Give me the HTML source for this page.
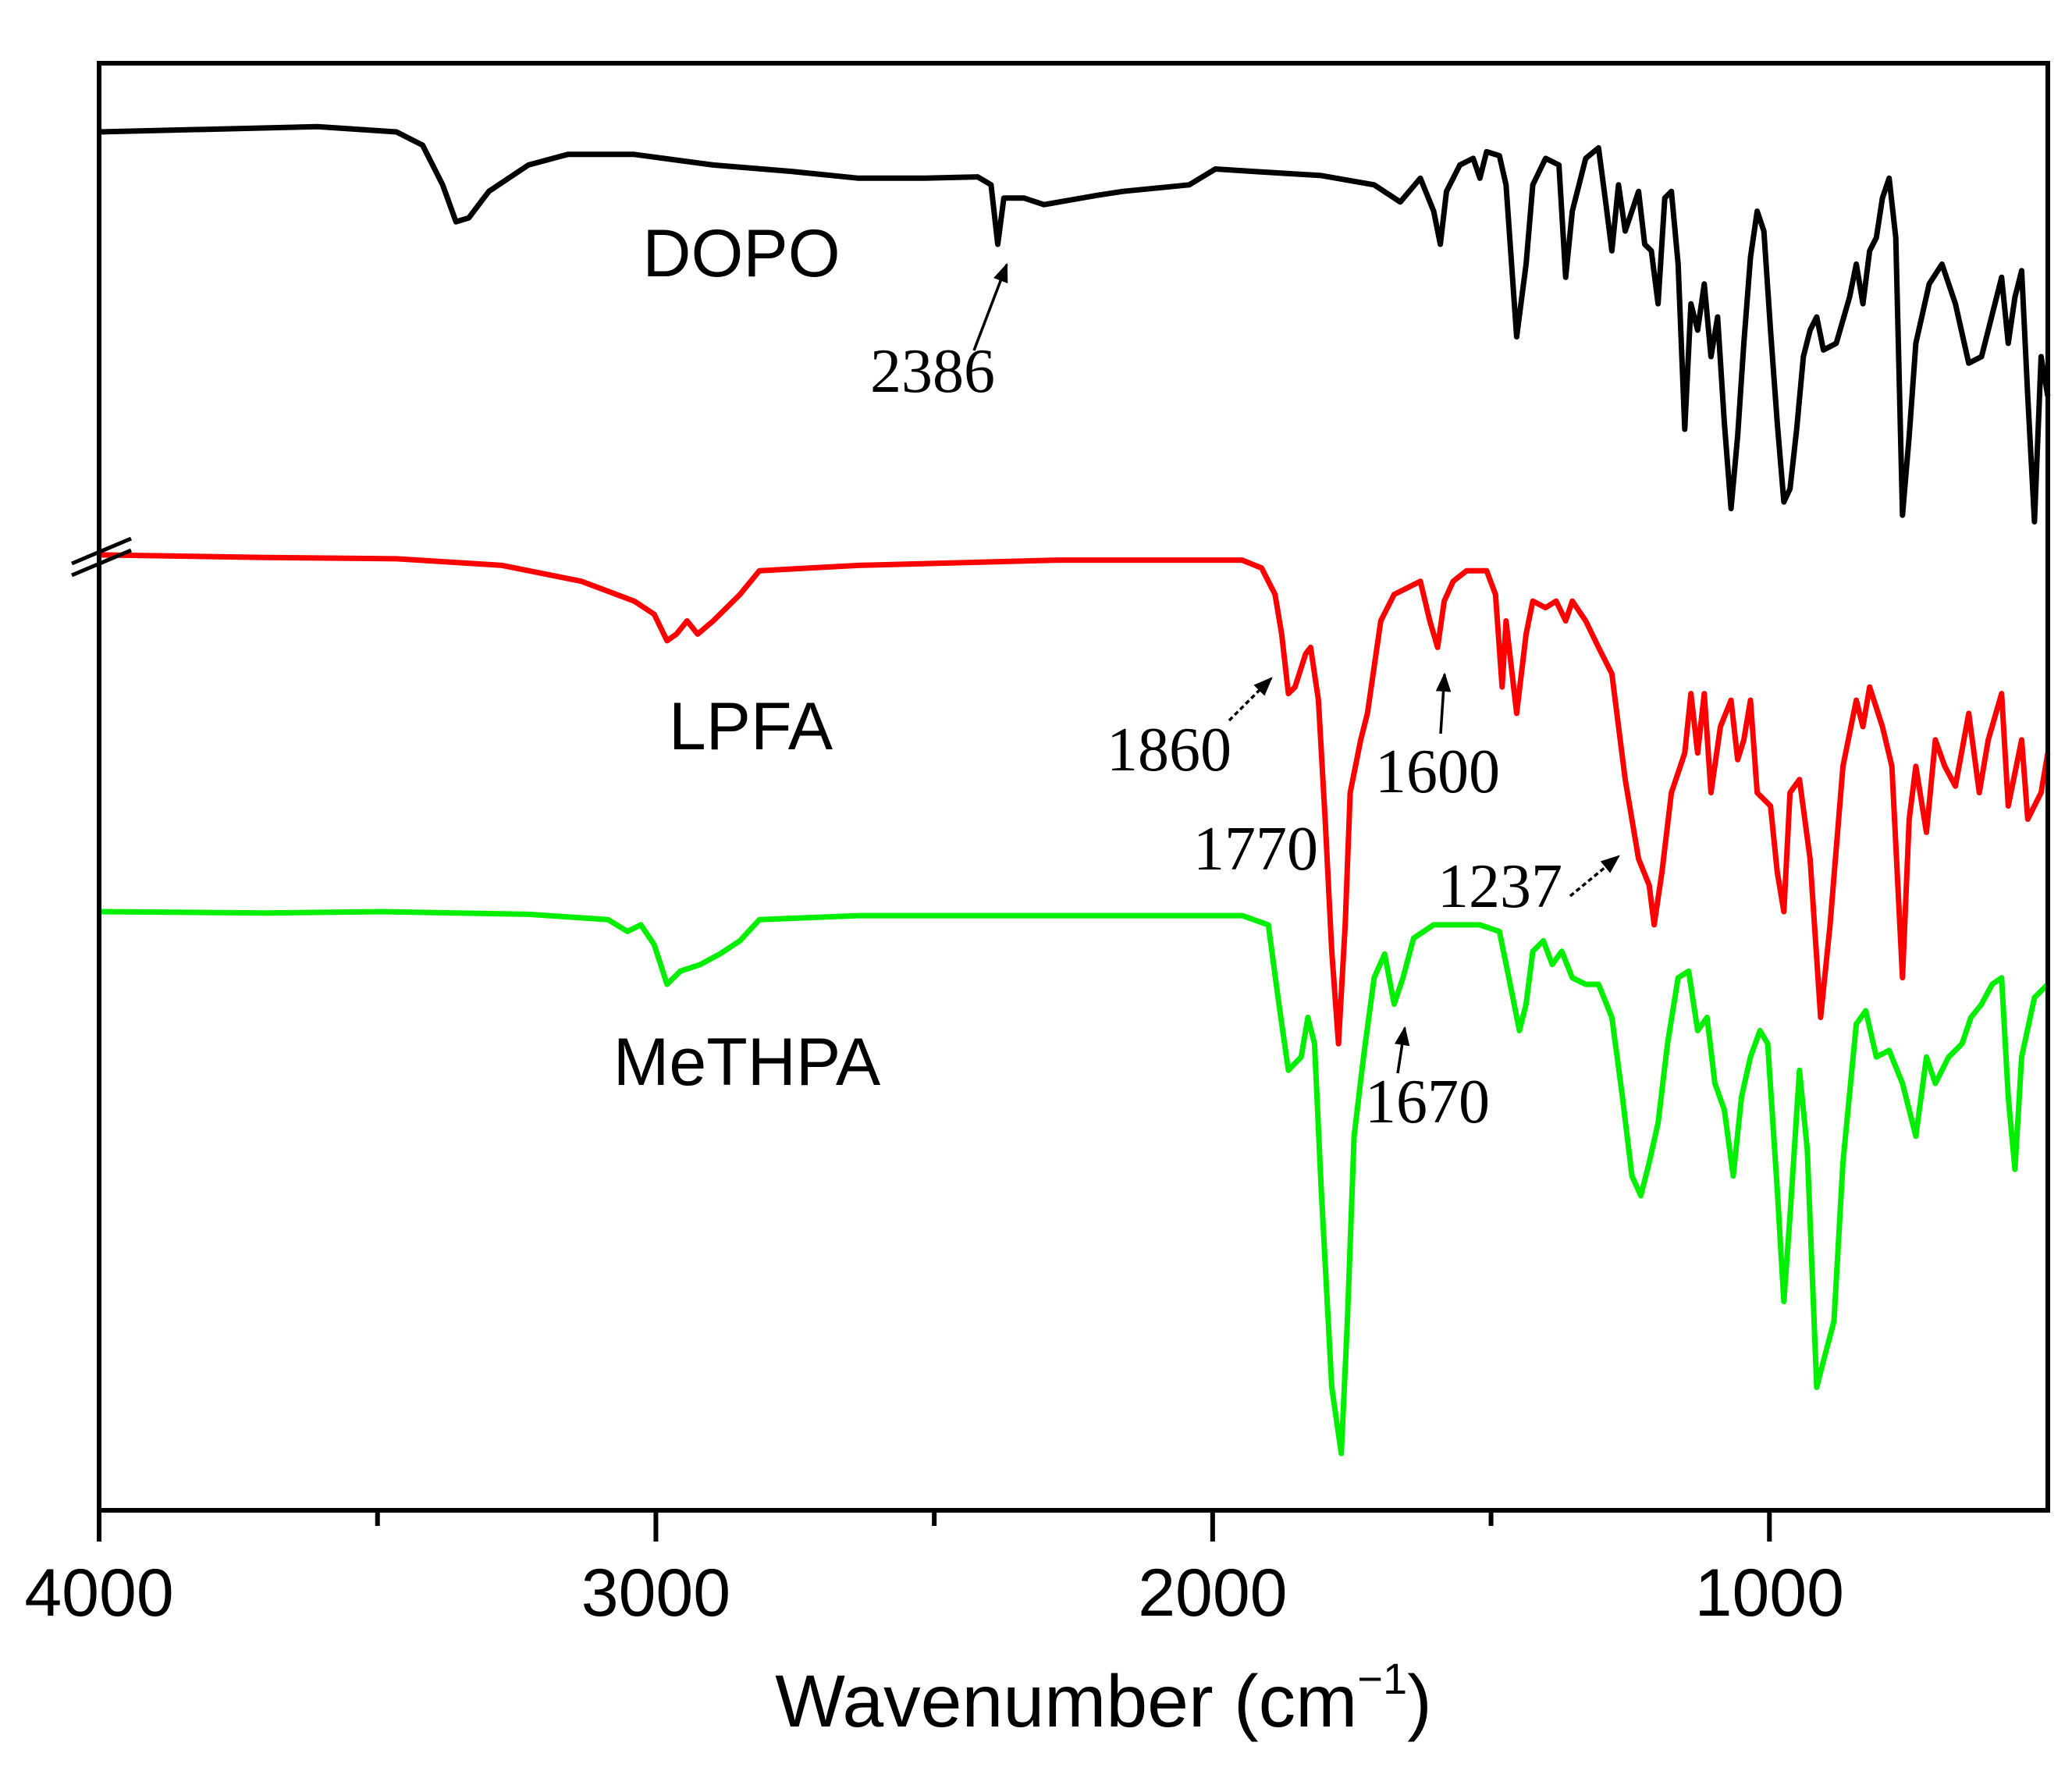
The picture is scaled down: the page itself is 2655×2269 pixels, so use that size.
<!DOCTYPE html>
<html><head><meta charset="utf-8"><style>
html,body{margin:0;padding:0;background:#fff;}
svg{display:block;}
</style></head><body>
<svg id="chart" width="2655" height="2269" viewBox="0 0 2655 2269" xmlns="http://www.w3.org/2000/svg">
<rect x="0" y="0" width="2655" height="2269" fill="#fff"/>
<g id="series"></g>
<rect x="127" y="81" width="2497" height="1854" fill="none" stroke="#000" stroke-width="6"/>
<g id="ticks"></g>
<g stroke="#000" stroke-width="5">
<line x1="92" y1="722" x2="168" y2="690"/>
<line x1="92" y1="737" x2="168" y2="705"/>
</g>
<text x="1414" y="2212" font-family="Liberation Sans, sans-serif" font-size="95" text-anchor="middle">Wavenumber (cm<tspan font-size="56" dy="-42">−1</tspan><tspan dy="42">)</tspan></text>
<g font-family="Liberation Sans, sans-serif" font-size="86" text-anchor="middle" fill="#000">
<text x="950" y="354">DOPO</text>
<text x="962" y="960">LPFA</text>
<text x="957" y="1390">MeTHPA</text>
</g>
<g font-family="Liberation Serif, serif" font-size="80" text-anchor="middle" fill="#000">
<text x="1195" y="502">2386</text>
<text x="1498" y="987">1860</text>
<text x="1842" y="1015">1600</text>
<text x="1609" y="1114">1770</text>
<text x="1922" y="1162">1237</text>
<text x="1829" y="1438">1670</text>
</g>
<defs><marker id="ah" viewBox="0 0 10 10" refX="9" refY="5" markerWidth="7" markerHeight="7" orient="auto"><path d="M0,1 L10,5 L0,9 Z" fill="#000"/></marker></defs>
<g stroke="#000" stroke-width="3.5" marker-end="url(#ah)">
<line x1="1248" y1="449" x2="1290" y2="339"/>
<line x1="1575" y1="923" x2="1629" y2="869" stroke-dasharray="6 4"/>
<line x1="1846" y1="940" x2="1851" y2="864"/>
<line x1="2012" y1="1148" x2="2074" y2="1097" stroke-dasharray="6 4"/>
<line x1="1791" y1="1375" x2="1800" y2="1317"/>
</g>
</svg>
<script>
const majorTicks = [4000, 3000, 2000, 1000];
const minorTicks = [3500, 2500, 1500];
const tickLabels = ["4000", "3000", "2000", "1000"];
const dopoData = [[4000,1043],[3608,1047],[3466,1043],[3419,1033],[3383,1003],[3359,975],[3336,978],[3300,998],[3229,1018],[3158,1026],[3039,1026],[2897,1018],[2754,1013],[2636,1008],[2517,1008],[2422,1009],[2398,1003],[2386,958],[2375,993],[2339,993],[2303,988],[2208,995],[2161,998],[2042,1003],[1995,1015],[1924,1013],[1805,1010],[1710,1003],[1663,990],[1627,1008],[1603,983],[1591,958],[1580,998],[1556,1018],[1532,1023],[1520,1008],[1508,1028],[1485,1025],[1473,1003],[1454,888],[1437,943],[1425,1003],[1402,1023],[1378,1018],[1366,933],[1354,983],[1330,1023],[1307,1031],[1295,993],[1283,953],[1271,1003],[1259,968],[1235,998],[1224,958],[1212,953],[1200,913],[1188,993],[1176,998],[1164,943],[1152,818],[1141,913],[1129,893],[1117,928],[1105,873],[1093,903],[1081,823],[1069,758],[1057,813],[1046,883],[1034,948],[1022,983],[1010,968],[998,893],[986,823],[974,763],[963,773],[951,818],[939,873],[927,893],[915,903],[903,878],[880,883],[856,918],[844,943],[832,913],[820,953],[808,963],[797,993],[785,1008],[773,963],[761,753],[749,813],[737,883],[713,928],[690,943],[666,913],[642,868],[619,873],[607,893],[583,933],[571,883],[559,918],[547,938],[536,843],[524,748],[512,873],[500,843]];
const lpfaData = [[4000,723],[3703,721],[3466,720],[3276,715],[3134,703],[3039,688],[3003,678],[2980,658],[2963,663],[2944,673],[2925,663],[2897,673],[2849,693],[2814,711],[2636,715],[2280,719],[1947,719],[1912,713],[1888,693],[1876,663],[1864,618],[1852,623],[1833,648],[1824,653],[1810,613],[1798,523],[1786,423],[1774,353],[1762,443],[1753,543],[1734,583],[1722,603],[1698,673],[1674,693],[1627,703],[1610,673],[1596,653],[1584,688],[1568,703],[1544,711],[1508,711],[1492,693],[1480,623],[1473,673],[1454,603],[1437,663],[1425,688],[1402,683],[1383,688],[1366,673],[1354,688],[1330,673],[1307,653],[1283,633],[1259,553],[1235,493],[1216,473],[1207,443],[1193,483],[1176,543],[1152,573],[1141,618],[1129,573],[1117,618],[1105,543],[1088,593],[1069,613],[1057,568],[1046,583],[1034,613],[1022,543],[998,533],[986,483],[974,453],[963,543],[946,553],[927,493],[908,373],[891,443],[868,563],[844,613],[832,593],[820,623],[797,593],[780,563],[761,403],[749,523],[737,563],[718,513],[702,583],[685,563],[666,548],[642,603],[623,543],[607,583],[583,618],[571,533],[547,583],[536,523],[512,543],[500,573]];
const methpaData = [[4000,453],[3703,452],[3490,453],[3229,451],[3086,447],[3051,438],[3027,443],[3003,428],[2980,398],[2956,408],[2920,413],[2885,421],[2849,431],[2814,447],[2636,450],[1947,450],[1900,443],[1881,383],[1864,333],[1841,343],[1829,373],[1817,353],[1805,243],[1786,93],[1769,43],[1758,143],[1746,283],[1729,343],[1710,403],[1691,421],[1674,383],[1658,403],[1639,433],[1603,443],[1520,443],[1485,438],[1468,403],[1449,363],[1437,383],[1425,423],[1406,431],[1390,413],[1373,423],[1354,403],[1330,398],[1307,398],[1283,373],[1264,313],[1247,253],[1231,238],[1216,263],[1200,293],[1183,353],[1164,403],[1145,408],[1129,363],[1112,373],[1098,323],[1081,303],[1065,253],[1050,313],[1034,343],[1017,363],[1003,353],[986,243],[974,158],[963,223],[946,333],[932,273],[915,93],[903,113],[884,143],[868,263],[844,368],[827,378],[808,343],[785,348],[761,323],[737,283],[718,343],[702,323],[678,343],[654,353],[638,373],[619,383],[600,398],[583,403],[571,313],[559,258],[547,343],[524,388],[500,398]];

const X0 = 127, X1 = 2624, Y0 = 1935, Y1 = 81;
const xMin = 4000, xMax = 500, yMin = 0, yMax = 1095;
function xScale(w) { return X0 + (w - xMin) / (xMax - xMin) * (X1 - X0); }
function yScale(v) { return Y0 - (v - yMin) / (yMax - yMin) * (Y0 - Y1); }
const NS = 'http://www.w3.org/2000/svg';
const sg = document.getElementById('series');
function drawSeries(data, color, name) {
  const p = document.createElementNS(NS, 'path');
  p.setAttribute('d', data.map((d, i) => (i ? 'L' : 'M') + xScale(d[0]).toFixed(1) + ',' + yScale(d[1]).toFixed(1)).join(' '));
  p.setAttribute('fill', 'none');
  p.setAttribute('stroke', color);
  p.setAttribute('stroke-width', '7');
  p.setAttribute('stroke-linejoin', 'round');
  
  
  sg.appendChild(p);
}
drawSeries(dopoData, '#000000', 'dopo-spectrum');
drawSeries(lpfaData, '#ff0000', 'lpfa-spectrum');
drawSeries(methpaData, '#00ee00', 'methpa-spectrum');
const tg = document.getElementById('ticks');
majorTicks.forEach((w, i) => {
  const l = document.createElementNS(NS, 'line');
  l.setAttribute('x1', xScale(w)); l.setAttribute('x2', xScale(w));
  l.setAttribute('y1', Y0); l.setAttribute('y2', Y0 + 40);
  l.setAttribute('stroke', '#000'); l.setAttribute('stroke-width', '6');
  
  
  tg.appendChild(l);
  const t = document.createElementNS(NS, 'text');
  t.setAttribute('x', xScale(w)); t.setAttribute('y', 2070);
  t.setAttribute('text-anchor', 'middle');
  t.setAttribute('font-family', 'Liberation Sans, sans-serif');
  t.setAttribute('font-size', '86');
  t.textContent = tickLabels[i];
  
  
  tg.appendChild(t);
});
minorTicks.forEach(w => {
  const l = document.createElementNS(NS, 'line');
  l.setAttribute('x1', xScale(w)); l.setAttribute('x2', xScale(w));
  l.setAttribute('y1', Y0); l.setAttribute('y2', Y0 + 20);
  l.setAttribute('stroke', '#000'); l.setAttribute('stroke-width', '6');
  
  
  tg.appendChild(l);
});
</script>
</body></html>
